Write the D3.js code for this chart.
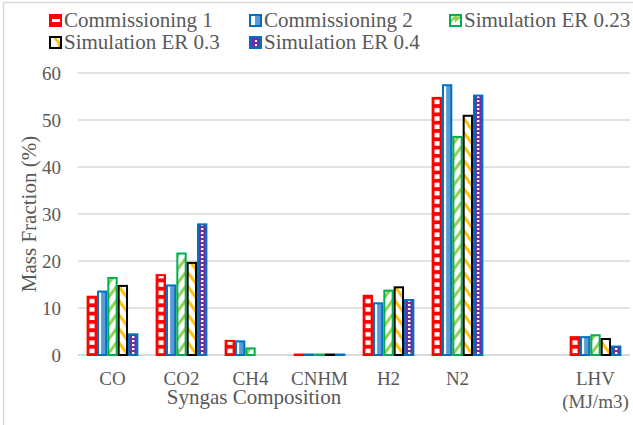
<!DOCTYPE html>
<html>
<head>
<meta charset="utf-8">
<script src="https://cdn.jsdelivr.net/npm/d3@7"></script>
<style>
  body { margin: 0; background: #fff; }
  svg text { font-family: "Liberation Serif", "Times New Roman", serif; fill: #595959; }
</style>
</head>
<body>
<svg id="chart" width="633" height="425"></svg>
<script>
// 数据
const categories = ['CO', 'CO2', 'CH4', 'CNHM', 'H2', 'N2', '', 'LHV']
const seriesNames = ['Commissioning 1', 'Commissioning 2', 'Simulation ER 0.23', 'Simulation ER 0.3', 'Simulation ER 0.4']
const commissioning1 = [12.4, 17.0, 3.0, 0.1, 12.6, 54.7, null, 3.8]
const commissioning2 = [13.5, 14.8, 2.9, 0.1, 11.0, 57.4, null, 3.8]
const simER023 = [16.4, 21.6, 1.4, 0.1, 13.7, 46.4, null, 4.2]
const simER03 = [14.7, 19.6, 0, 0.1, 14.4, 50.9, null, 3.4]
const simER04 = [4.4, 27.8, 0, 0.1, 11.7, 55.2, null, 1.8]
const yTicks = [0, 10, 20, 30, 40, 50, 60]

const allSeries = [commissioning1, commissioning2, simER023, simER03, simER04]
const strokes = ['#ff0000', '#0070c0', '#00b050', '#000000', '#0070c0']

const svg = d3.select('#chart')
const marge = { top: 73, bottom: 70, left: 78, right: 3 }
const width = 633, height = 425

// 外框
svg.append('rect')
  .attr('x', 3.5).attr('y', 2.5).attr('width', 660).attr('height', 460)
  .attr('fill', 'none').attr('stroke', '#d9d9d9').attr('stroke-width', 1.5)

const x0 = d3.scaleBand()
  .domain(categories.map((c, i) => i))
  .range([marge.left, width - marge.right])
  .paddingInner(0.25)
  .paddingOuter(0.125)
const x1 = d3.scaleBand()
  .domain(d3.range(seriesNames.length))
  .range([0, x0.bandwidth()])
const y = d3.scaleLinear().domain([0, 60]).range([355, marge.top])

// 图案 (pattern)，坐标是每个分组内部的坐标
const defs = svg.append('defs')
const bw = x1.bandwidth()
const tileW = 200
function makePattern(s, h) {
  return defs.append('pattern')
    .attr('id', 'pat' + s)
    .attr('patternUnits', 'userSpaceOnUse')
    .attr('x', x1(s)).attr('y', y(0))
    .attr('width', tileW).attr('height', h)
}
// Commissioning 1: 红底白方块
let p = makePattern(0, 8.3)
p.append('rect').attr('width', tileW).attr('height', 8.3).attr('fill', '#ff0000')
p.append('rect').attr('x', bw * 0.27).attr('y', 2).attr('width', bw * 0.5).attr('height', 4.5).attr('fill', '#fff')
// Commissioning 2: 白+浅蓝竖条
p = makePattern(1, 10)
p.append('rect').attr('width', tileW).attr('height', 10).attr('fill', '#5b9bd5')
p.append('rect').attr('width', bw * 0.4).attr('height', 10).attr('fill', '#fff')
// ER 0.23: 绿色斜线
p = makePattern(2, 14)
p.append('rect').attr('width', tileW).attr('height', 14).attr('fill', '#fff')
p.append('path').attr('d', `M0,14L${bw},0M-${bw},14L0,0M0,28L${bw},14`)
  .attr('stroke', '#92d050').attr('stroke-width', 3)
// ER 0.3: 橙色斜线
p = makePattern(3, 14)
p.append('rect').attr('width', tileW).attr('height', 14).attr('fill', '#fff')
p.append('path').attr('d', `M0,0L${bw},14M0,-14L${bw},0M0,14L${bw},28`)
  .attr('stroke', '#ffc000').attr('stroke-width', 3)
// ER 0.4: 紫底白点
p = makePattern(4, 4)
p.append('rect').attr('width', tileW).attr('height', 4).attr('fill', '#7030a0')
p.append('rect').attr('x', bw / 2 - 1.2).attr('y', 1).attr('width', 2.4).attr('height', 2).attr('fill', '#fff')

// 网格线
svg.append('g').selectAll('line')
  .data(yTicks)
  .enter()
  .append('line')
  .attr('x1', marge.left).attr('x2', width - marge.right)
  .attr('y1', d => y(d)).attr('y2', d => y(d))
  .attr('stroke', '#d9d9d9').attr('stroke-width', d => d === 0 ? 2 : 1.5)

// y 轴刻度
svg.append('g').selectAll('text')
  .data(yTicks)
  .enter()
  .append('text')
  .attr('x', 61).attr('y', d => y(d) + 6.5)
  .attr('text-anchor', 'end')
  .style('font-size', '19px')
  .text(d => d)

// 柱子
const groups = svg.append('g').selectAll('g')
  .data(categories.map((c, i) => i))
  .enter()
  .append('g')
  .attr('transform', i => `translate(${x0(i)},0)`)
groups.selectAll('rect')
  .data(i => allSeries.map((arr, s) => ({ s, v: arr[i] })).filter(d => d.v))
  .enter()
  .append('rect')
  .attr('x', d => x1(d.s) + 1)
  .attr('y', d => y(d.v))
  .attr('width', bw - 2)
  .attr('height', d => y(0) - y(d.v))
  .attr('fill', d => `url(#pat${d.s})`)
  .attr('stroke', d => strokes[d.s])
  .attr('stroke-width', 2)

// x 轴标签
svg.append('g').selectAll('text')
  .data(categories.map((c, i) => i).filter(i => categories[i] && categories[i] !== 'LHV'))
  .enter()
  .append('text')
  .attr('x', i => x0(i) + x0.bandwidth() / 2)
  .attr('y', 385)
  .attr('text-anchor', 'middle')
  .style('font-size', '19px')
  .text(i => categories[i])
const lhv = svg.append('text')
  .attr('x', x0(7) + x0.bandwidth() / 2).attr('y', 385)
  .attr('text-anchor', 'middle')
  .style('font-size', '19px')
lhv.append('tspan').text('LHV')
lhv.append('tspan').attr('x', x0(7) + x0.bandwidth() / 2).attr('dy', 23).text('(MJ/m3)')

// 轴标题
svg.append('text')
  .attr('x', 254).attr('y', 404)
  .attr('text-anchor', 'middle')
  .style('font-size', '21px')
  .text('Syngas Composition')
svg.append('text')
  .attr('transform', `translate(36,${(y(0) + y(60)) / 2}) rotate(-90)`)
  .attr('text-anchor', 'middle')
  .style('font-size', '21px')
  .text('Mass Fraction (%)')

// 图例
const legendPos = [[49, 14], [249, 14], [449, 14], [49, 36], [249, 36]]
const legend = svg.append('g').selectAll('g')
  .data(seriesNames)
  .enter()
  .append('g')
  .attr('transform', (d, i) => `translate(${legendPos[i][0]},${legendPos[i][1]})`)
legend.each(function (d, i) {
  const g = d3.select(this)
  const lp = defs.append('pattern').attr('id', 'leg' + i)
    .attr('patternUnits', 'objectBoundingBox').attr('width', 1).attr('height', 1)
  const fills = [
    () => { lp.append('rect').attr('width', 12).attr('height', 12).attr('fill', '#ff0000'); lp.append('rect').attr('x', 2).attr('y', 4).attr('width', 8).attr('height', 3).attr('fill', '#fff') },
    () => { lp.append('rect').attr('width', 12).attr('height', 12).attr('fill', '#5b9bd5'); lp.append('rect').attr('width', 5).attr('height', 12).attr('fill', '#fff') },
    () => { lp.append('rect').attr('width', 12).attr('height', 12).attr('fill', '#fff'); lp.append('path').attr('d', 'M0,7L6,1L6,5L12,0').attr('stroke', '#92d050').attr('stroke-width', 2.5).attr('fill', 'none') },
    () => { lp.append('rect').attr('width', 12).attr('height', 12).attr('fill', '#fff'); lp.append('path').attr('d', 'M4,0L9,6L9,12').attr('stroke', '#ffc000').attr('stroke-width', 2.5).attr('fill', 'none') },
    () => { lp.append('rect').attr('width', 12).attr('height', 12).attr('fill', '#7030a0'); lp.append('rect').attr('x', 5).attr('y', 3).attr('width', 2).attr('height', 2).attr('fill', '#fff'); lp.append('rect').attr('x', 5).attr('y', 7).attr('width', 2).attr('height', 2).attr('fill', '#fff') }
  ]
  fills[i]()
  g.append('rect').attr('x', 1).attr('y', 1).attr('width', 11).attr('height', 11)
    .attr('fill', `url(#leg${i})`).attr('stroke', strokes[i]).attr('stroke-width', 2)
  g.append('text').attr('x', 15).attr('y', 13).style('font-size', '21px').text(d)
})
</script>
</body>
</html>
